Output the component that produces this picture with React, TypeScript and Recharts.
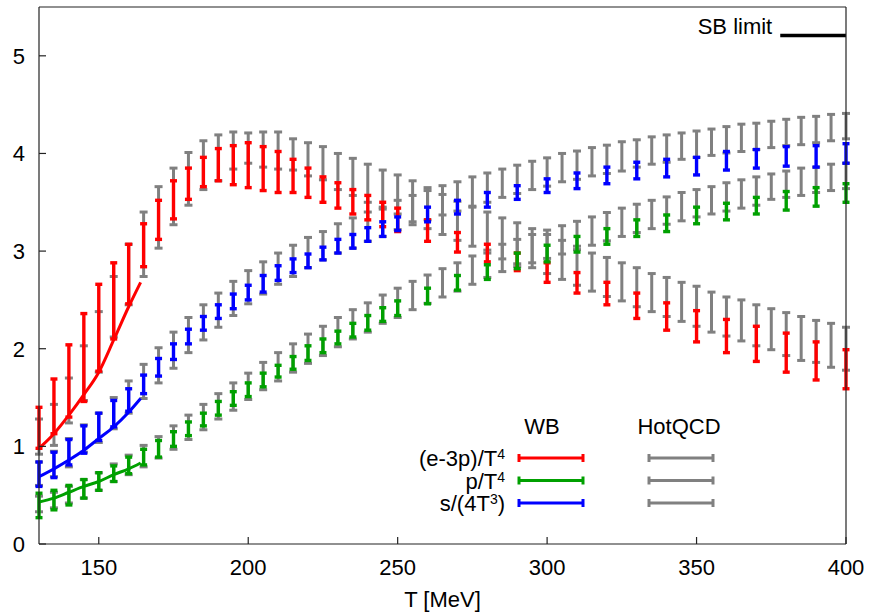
import React from 'react';
import { ComposedChart, Scatter, ErrorBar, Line, XAxis, YAxis } from 'recharts';

// temperatures (MeV)
const wbT = [130, 135, 140, 145, 150, 155, 160, 165, 170, 175, 180, 185, 190, 195, 200, 205, 210, 215, 220, 225, 230, 235, 240, 245, 250,
  260, 270, 280, 290, 300, 310, 320, 330, 340, 350, 360, 370, 380, 390, 400];
const hotT = [130, 135, 140, 145, 150, 155, 160, 165, 170, 175, 180, 185, 190, 195, 200, 205, 210, 215, 220, 225,
  230, 235, 240, 245, 250, 255, 260, 265, 270, 275, 280, 285, 290, 295, 300, 305, 310, 315, 320, 325,
  330, 335, 340, 345, 350, 355, 360, 365, 370, 375, 380, 385, 390, 395, 400];
const hrgT = [130, 135, 140, 145, 150, 155, 160, 164];
const sbT = [378, 400];

// WB
const wbTrace = [1.19, 1.41, 1.67, 1.91, 2.215, 2.49, 2.765, 3.06, 3.32, 3.525, 3.69, 3.81, 3.885, 3.88, 3.88, 3.845, 3.81, 3.77, 3.70, 3.63, 3.57, 3.505, 3.445, 3.375, 3.32,
  3.21, 3.09, 2.98, 2.89, 2.78, 2.675, 2.565, 2.44, 2.33, 2.23, 2.13, 2.05, 1.96, 1.875, 1.79];
const wbTraceErr = [0.21, 0.28, 0.37, 0.45, 0.445, 0.39, 0.305, 0.22, 0.20, 0.195, 0.16, 0.15, 0.165, 0.20, 0.23, 0.225, 0.21, 0.17, 0.15, 0.13, 0.13, 0.125, 0.125, 0.125, 0.12,
  0.11, 0.10, 0.09, 0.09, 0.10, 0.105, 0.115, 0.13, 0.14, 0.16, 0.17, 0.18, 0.20, 0.195, 0.20];
const wbPressure = [0.395, 0.45, 0.50, 0.565, 0.64, 0.72, 0.805, 0.89, 0.975, 1.075, 1.18, 1.275, 1.39, 1.49, 1.58, 1.68, 1.77, 1.855, 1.955, 2.03, 2.115, 2.19, 2.265, 2.35, 2.415,
  2.54, 2.675, 2.785, 2.90, 2.975, 3.07, 3.15, 3.235, 3.285, 3.365, 3.405, 3.465, 3.515, 3.555, 3.595];
const wbPressureErr = [0.125, 0.10, 0.10, 0.095, 0.09, 0.08, 0.085, 0.08, 0.085, 0.075, 0.07, 0.065, 0.07, 0.07, 0.07, 0.07, 0.06, 0.065, 0.075, 0.07, 0.065, 0.07, 0.075, 0.07, 0.075,
  0.08, 0.075, 0.075, 0.08, 0.085, 0.08, 0.08, 0.085, 0.085, 0.085, 0.085, 0.085, 0.095, 0.095, 0.095];
const wbEntropy = [0.715, 0.81, 0.94, 1.07, 1.20, 1.335, 1.475, 1.635, 1.81, 1.97, 2.125, 2.26, 2.38, 2.485, 2.575, 2.665, 2.775, 2.85, 2.90, 2.975, 3.05, 3.10, 3.17, 3.225, 3.28,
  3.375, 3.45, 3.525, 3.60, 3.67, 3.72, 3.775, 3.825, 3.85, 3.87, 3.925, 3.945, 3.97, 3.97, 4.00];
const wbEntropyErr = [0.125, 0.13, 0.13, 0.14, 0.14, 0.135, 0.115, 0.095, 0.09, 0.08, 0.075, 0.07, 0.07, 0.075, 0.075, 0.085, 0.075, 0.07, 0.07, 0.065, 0.07, 0.07, 0.07, 0.075, 0.07,
  0.075, 0.07, 0.075, 0.07, 0.07, 0.08, 0.085, 0.085, 0.09, 0.09, 0.095, 0.095, 0.10, 0.11, 0.10];

// HotQCD
const hotTrace = [1.10, 1.22, 1.47, 1.75, 2.07, 2.43, 2.76, 3.07, 3.345, 3.56, 3.74, 3.88, 3.955, 4.03, 4.055, 4.04, 4.03, 3.99, 3.94, 3.90,
  3.815, 3.76, 3.695, 3.63, 3.58, 3.51, 3.44, 3.375, 3.31, 3.25, 3.19, 3.13, 3.08, 3.03, 2.97, 2.91, 2.85, 2.785, 2.735, 2.685,
  2.63, 2.575, 2.53, 2.48, 2.435, 2.375, 2.33, 2.29, 2.24, 2.20, 2.15, 2.105, 2.075, 2.035, 2.00];
const hotTraceErr = [0.18, 0.21, 0.23, 0.28, 0.31, 0.31, 0.31, 0.33, 0.315, 0.29, 0.27, 0.25, 0.235, 0.19, 0.155, 0.18, 0.19, 0.16, 0.17, 0.17,
  0.185, 0.19, 0.195, 0.20, 0.20, 0.21, 0.21, 0.205, 0.20, 0.20, 0.21, 0.21, 0.21, 0.20, 0.20, 0.20, 0.20, 0.195, 0.20, 0.195,
  0.20, 0.195, 0.20, 0.20, 0.205, 0.205, 0.20, 0.21, 0.21, 0.21, 0.22, 0.225, 0.215, 0.225, 0.22];
const hotPressure = [0.41, 0.45, 0.505, 0.565, 0.64, 0.73, 0.81, 0.90, 0.99, 1.09, 1.195, 1.30, 1.41, 1.51, 1.615, 1.72, 1.815, 1.905, 2.00, 2.08,
  2.17, 2.25, 2.32, 2.405, 2.47, 2.545, 2.61, 2.675, 2.735, 2.805, 2.87, 2.93, 2.98, 3.025, 3.07, 3.115, 3.16, 3.205, 3.25, 3.295,
  3.335, 3.375, 3.415, 3.455, 3.49, 3.52, 3.555, 3.585, 3.615, 3.66, 3.685, 3.71, 3.73, 3.755, 3.77];
const hotPressureErr = [0.08, 0.08, 0.085, 0.095, 0.09, 0.09, 0.10, 0.11, 0.11, 0.12, 0.125, 0.13, 0.13, 0.14, 0.135, 0.14, 0.145, 0.145, 0.15, 0.15,
  0.15, 0.15, 0.15, 0.145, 0.15, 0.145, 0.145, 0.145, 0.145, 0.145, 0.14, 0.14, 0.14, 0.145, 0.145, 0.145, 0.145, 0.145, 0.145, 0.145,
  0.145, 0.145, 0.14, 0.145, 0.14, 0.14, 0.145, 0.145, 0.145, 0.13, 0.135, 0.14, 0.13, 0.135, 0.13];
const hotEntropy = [0.72, 0.82, 0.935, 1.08, 1.19, 1.34, 1.505, 1.665, 1.83, 1.985, 2.14, 2.27, 2.395, 2.515, 2.63, 2.725, 2.82, 2.90, 2.985, 3.055,
  3.13, 3.185, 3.25, 3.30, 3.37, 3.42, 3.47, 3.52, 3.56, 3.61, 3.65, 3.695, 3.735, 3.775, 3.81, 3.855, 3.88, 3.915, 3.94, 3.97,
  4.00, 4.03, 4.05, 4.075, 4.095, 4.115, 4.14, 4.16, 4.175, 4.195, 4.215, 4.23, 4.245, 4.265, 4.28];
const hotEntropyErr = [0.12, 0.13, 0.145, 0.14, 0.15, 0.16, 0.165, 0.175, 0.18, 0.185, 0.18, 0.18, 0.175, 0.175, 0.17, 0.165, 0.16, 0.16, 0.155, 0.145,
  0.15, 0.155, 0.15, 0.15, 0.15, 0.15, 0.15, 0.15, 0.15, 0.15, 0.15, 0.145, 0.145, 0.145, 0.145, 0.145, 0.145, 0.145, 0.145, 0.15,
  0.14, 0.14, 0.14, 0.135, 0.135, 0.135, 0.135, 0.14, 0.135, 0.135, 0.135, 0.14, 0.135, 0.135, 0.13];

// HRG curves
const hrgTrace = [0.98, 1.13, 1.32, 1.53, 1.76, 2.09, 2.43, 2.68];
const hrgPressure = [0.43, 0.47, 0.53, 0.59, 0.64, 0.71, 0.77, 0.83];
const hrgEntropy = [0.69, 0.77, 0.86, 0.96, 1.08, 1.20, 1.35, 1.49];

const sbValue = 5.209;

const xTicks = [150, 200, 250, 300, 350, 400];
const yTicks = [0, 1, 2, 3, 4, 5];

const RED = '#ff0000';
const GREEN = '#00a000';
const BLUE = '#0000ff';
const GRAY = '#808080';
const FONT = '"Liberation Sans", Arial, Helvetica, sans-serif';

const pts = (xs: number[], ys: number[], es?: number[]) =>
  xs.map((T, i) => ({ T, v: ys[i], e: es ? es[i] : 0 }));

const NoDot = () => <g />;

const legendRows = [
  { color: RED, name: '(e-3p)/T', sup: '4', tail: '' },
  { color: GREEN, name: 'p/T', sup: '4', tail: '' },
  { color: BLUE, name: 's/(4T', sup: '3', tail: ')' },
];

function Sample({ x1, x2, y, color }: { x1: number; x2: number; y: number; color: string }) {
  return (
    <g stroke={color} strokeWidth={3}>
      <line x1={x1} x2={x2} y1={y} y2={y} />
      <line x1={x1} x2={x1} y1={y - 4} y2={y + 4} />
      <line x1={x2} x2={x2} y1={y - 4} y2={y + 4} />
    </g>
  );
}

function Key() {
  return (
    <svg width={870} height={614} style={{ position: 'absolute', left: 0, top: 0, pointerEvents: 'none' }}>
      <g fontFamily={FONT} fontSize={22} fill="#000">
        <text x={542} y={434} textAnchor="middle">WB</text>
        <text x={679} y={434} textAnchor="middle">HotQCD</text>
        {legendRows.map((r, i) => {
          const y = 458 + i * 22.5;
          return (
            <g key={r.name}>
              <text x={505} y={y + 8} textAnchor="end">
                {r.name}
                <tspan dy={-7} fontSize={14}>{r.sup}</tspan>
                {r.tail ? <tspan dy={7}>{r.tail}</tspan> : null}
              </text>
              <Sample x1={519} x2={583} y={y} color={r.color} />
              <Sample x1={649} x2={713} y={y} color={GRAY} />
            </g>
          );
        })}
      </g>
    </svg>
  );
}

const sbLabel = (p: any) => {
  if (p.index !== 0) return null;
  return (
    <text x={p.x - 8} y={p.y - 1} textAnchor="end" fontFamily={FONT} fontSize={22} fill="#000">
      SB limit
    </text>
  );
};

const gray = [
  { key: 'hotTrace', data: pts(hotT, hotTrace, hotTraceErr) },
  { key: 'hotPressure', data: pts(hotT, hotPressure, hotPressureErr) },
  { key: 'hotEntropy', data: pts(hotT, hotEntropy, hotEntropyErr) },
];
const colored = [
  { key: 'wbTrace', color: RED, data: pts(wbT, wbTrace, wbTraceErr) },
  { key: 'wbPressure', color: GREEN, data: pts(wbT, wbPressure, wbPressureErr) },
  { key: 'wbEntropy', color: BLUE, data: pts(wbT, wbEntropy, wbEntropyErr) },
];
const curves = [
  { key: 'hrgTrace', color: RED, data: pts(hrgT, hrgTrace) },
  { key: 'hrgPressure', color: GREEN, data: pts(hrgT, hrgPressure) },
  { key: 'hrgEntropy', color: BLUE, data: pts(hrgT, hrgEntropy) },
];

export default function App() {
  const tickStyle = { fontSize: 22, fill: '#000', fontFamily: FONT };
  return (
    <div style={{ position: 'absolute', left: 0, top: 0, width: 870, height: 614, background: '#fff' }}>
      <ComposedChart width={870} height={614} margin={{ top: 6, right: 23, bottom: 0, left: 0 }}>
        <XAxis
          dataKey="T"
          type="number"
          domain={[130, 400]}
          ticks={xTicks}
          allowDataOverflow
          height={70}
          tickSize={-7}
          tickMargin={22}
          stroke="#222"
          strokeWidth={1.2}
          tick={tickStyle}
          label={{ value: 'T [MeV]', position: 'insideBottom', offset: 7, fontSize: 22, fill: '#000', fontFamily: FONT }}
        />
        <XAxis xAxisId="top" dataKey="T" orientation="top" type="number" domain={[130, 400]} ticks={xTicks}
          allowDataOverflow height={1} tickSize={-7} tick={false} stroke="#222" strokeWidth={1.2} />
        <YAxis
          type="number"
          domain={[0, 5.5]}
          ticks={yTicks}
          allowDataOverflow
          width={39}
          tickSize={-7}
          tickMargin={21}
          stroke="#222"
          strokeWidth={1.2}
          tick={tickStyle}
        />
        <YAxis yAxisId="right" orientation="right" type="number" domain={[0, 5.5]} ticks={yTicks}
          allowDataOverflow width={1} tickSize={-7} tick={false} stroke="#222" strokeWidth={1.2} />

        {gray.map((s) => (
          <Scatter key={s.key} data={s.data} dataKey="v" shape={NoDot} isAnimationActive={false}>
            <ErrorBar dataKey="e" direction="y" width={4} stroke={GRAY} strokeWidth={3} isAnimationActive={false} />
          </Scatter>
        ))}
        {colored.map((s) => (
          <Scatter key={s.key} data={s.data} dataKey="v" shape={NoDot} isAnimationActive={false}>
            <ErrorBar dataKey="e" direction="y" width={3.5} stroke={s.color} strokeWidth={3.4} isAnimationActive={false} />
          </Scatter>
        ))}
        {curves.map((s) => (
          <Line key={s.key} data={s.data} dataKey="v" type="monotone" stroke={s.color} strokeWidth={3} dot={false} isAnimationActive={false} />
        ))}
        <Line
          data={sbT.map((T) => ({ T, v: sbValue }))}
          dataKey="v"
          stroke="#000"
          strokeWidth={3.5}
          dot={false}
          isAnimationActive={false}
          label={sbLabel}
        />
      </ComposedChart>
      <Key />
    </div>
  );
}
